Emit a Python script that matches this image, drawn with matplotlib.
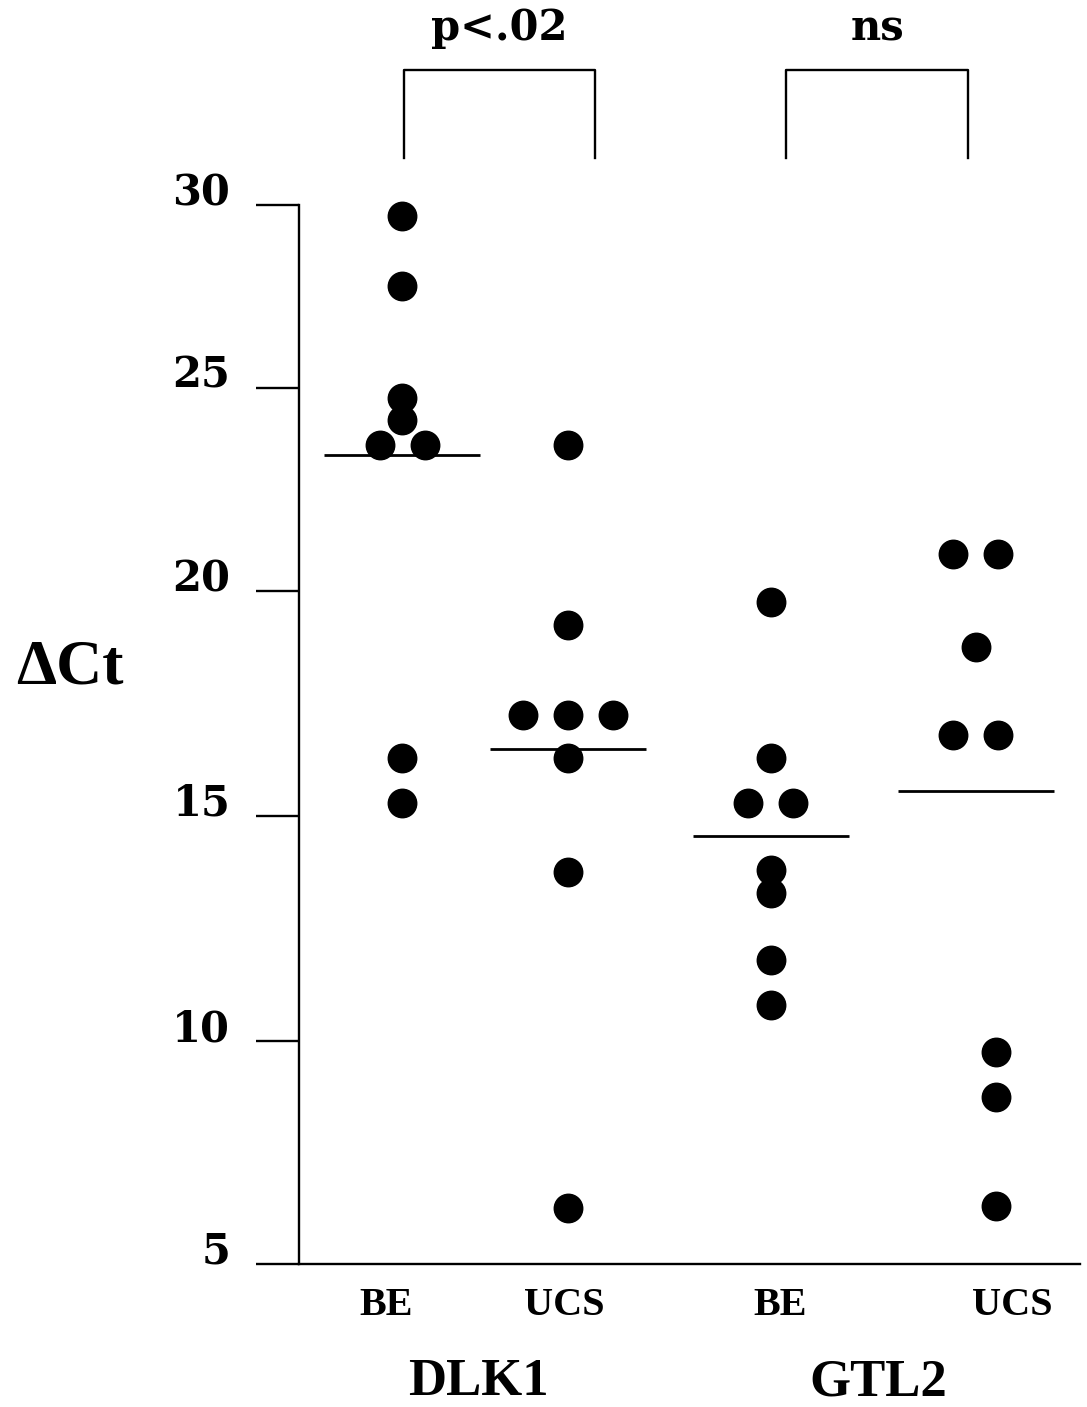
import numpy as np
import matplotlib
matplotlib.use('agg')
import matplotlib.pyplot as plt

# delta Ct values
groups = ['BE', 'UCS', 'BE', 'UCS']
genes = ['DLK1', 'GTL2']
dlk1_be = [29.7, 27.8, 24.75, 24.2, 23.6, 23.6, 16.3, 15.3]
dlk1_ucs = [23.6, 19.25, 17.25, 17.25, 17.25, 16.3, 13.75, 6.25]
gtl2_be = [19.75, 16.3, 15.3, 15.3, 13.8, 13.3, 11.8, 10.8]
gtl2_ucs = [20.9, 20.9, 18.75, 16.8, 16.8, 9.75, 8.75, 6.3]
group_means = [23.35, 16.5, 14.55, 15.55]
p_labels = ['p<.02', 'ns']
yticks = [5, 10, 15, 20, 25, 30]

# layout
col_x = [1.0, 2.0, 3.22, 4.455]
dot_step = 0.271
# horizontal placement of tied dots, in dot widths
jitter = [[0, 0, 0, 0, -0.5, 0.5, 0, 0],
          [0, 0, -1, 0, 1, 0, 0, 0],
          [0, 0, -0.5, 0.5, 0, 0, 0, 0],
          [-0.5, 0.5, 0, -0.5, 0.5, 0.45, 0.45, 0.45]]
# the printed axis has uneven tick spacing, keep it
tick_pos = [0, 223, 448, 673, 876, 1059]

def fwd(v):
    return np.interp(v, yticks, tick_pos)

def inv(p):
    return np.interp(p, tick_pos, yticks)

serif_b = {'family': 'DejaVu Serif', 'weight': 'bold'}
times_b = {'family': 'Liberation Serif', 'weight': 'bold'}

fig = plt.figure(figsize=(10.87, 14.07), dpi=100)
ax = fig.add_axes([299/1087, 143/1407, 781/1087, 1059/1407])
ax.set_yscale('function', functions=(fwd, inv))
ax.set_ylim(5, 30)
ax.set_xlim(0.3795, 5.084)

data = [dlk1_be, dlk1_ucs, gtl2_be, gtl2_ucs]
for i, vals in enumerate(data):
    xs = col_x[i] + np.array(jitter[i]) * dot_step
    ax.plot(xs, vals, 'o', color='black', markersize=20.5, zorder=3, clip_on=False)
    ax.hlines(group_means[i], col_x[i] - 0.47, col_x[i] + 0.47, color='black', lw=2, zorder=2)

for s in ['top', 'right']:
    ax.spines[s].set_visible(False)
for s in ['left', 'bottom']:
    ax.spines[s].set_linewidth(1.7)
ax.set_xticks([])
ax.set_yticks(yticks)
ax.set_yticklabels([])
ax.tick_params(axis='y', direction='out', length=31, width=1.7)
ytr = ax.get_yaxis_transform()
for t in yticks:
    ax.text(-0.088, t, str(t), transform=ytr, ha='right', va='baseline', fontsize=30, **serif_b)

xtr = ax.get_xaxis_transform()
label_x = [0.904, 1.976, 3.277, 4.675]
for lx, g in zip(label_x, groups):
    ax.text(lx, -0.048, g, transform=xtr, ha='center', va='baseline', fontsize=29, **times_b)
for lx, g in zip([1.458, 3.867], genes):
    ax.text(lx, -0.124, g, transform=xtr, ha='center', va='baseline', fontsize=38, **times_b)

# significance brackets
brackets = [(1.012, 2.163), (3.313, 4.41)]
for (x0, x1), lab in zip(brackets, p_labels):
    ax.plot([x0, x0, x1, x1], [1.0444, 1.1275, 1.1275, 1.0444], color='black', lw=1.7,
            transform=xtr, clip_on=False)
    ax.text((x0 + x1) / 2, 1.1558, lab, transform=xtr, ha='center', va='baseline',
            fontsize=30, **serif_b)

fig.text(70/1087, 1 - 668/1407, '\u0394Ct', ha='center', va='center', fontsize=46, **times_b)

fig.savefig('out.png', dpi=100)
